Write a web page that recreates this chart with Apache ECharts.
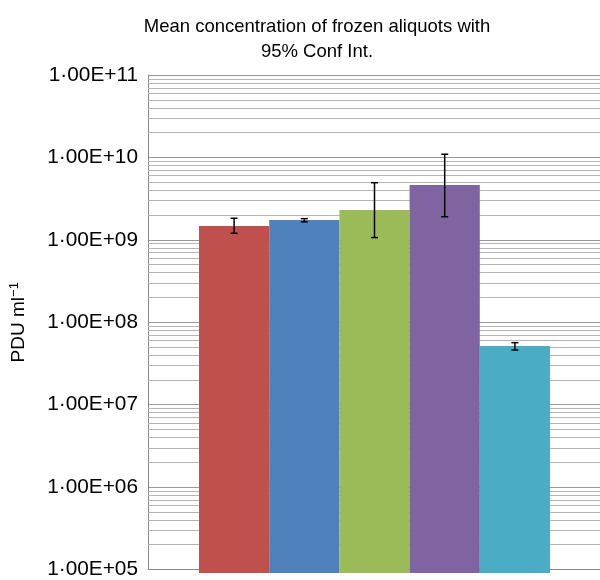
<!DOCTYPE html>
<html>
<head>
<meta charset="utf-8">
<script src="https://cdn.jsdelivr.net/npm/echarts@6/dist/echarts.min.js"></script>
<style>html,body{margin:0;padding:0;background:#fff}#c{width:600px;height:580px}</style>
</head>
<body>
<div id="c"></div>
<script>
// ---- data ----
const categories = ['Aliquot 1', 'Aliquot 2', 'Aliquot 3', 'Aliquot 4', 'Aliquot 5'];
const means   = [1.52e9, 1.79e9, 2.36e9, 4.73e9, 5.43e7];
const ciLow   = [1.24e9, 1.70e9, 1.10e9, 1.96e9, 4.86e7];
const ciHigh  = [1.88e9, 1.86e9, 5.04e9, 1.11e10, 5.96e7];
const barColors = ['#C0504D', '#4F81BD', '#9BBB59', '#8064A2', '#4BACC6'];
const yMin = 1e5, yMax = 1e11;
const titleText = 'Mean concentration of frozen aliquots with\n95% Conf Int.';
const yNameMain = 'PDU ml';
const yNameSup = '\u22121';

// minor gridline values (2..9 x 10^k)
const minorVals = [];
for (let k = 5; k < 11; k++) for (let m = 2; m <= 9; m++) minorVals.push(m * Math.pow(10, k));

const font = '"Liberation Sans", Arial, sans-serif';
const chart = echarts.init(document.getElementById('c'), null, {renderer: 'canvas'});
const fmt = v => { const e = Math.round(Math.log10(v)); return '1\u00B700E+' + String(e).padStart(2, '0'); };

chart.setOption({
  animation: false,
  title: {
    text: titleText, left: 312, top: 9, textAlign: 'center',
    textStyle: {fontFamily: font, fontSize: 18.5, fontWeight: 'normal', color: '#000', lineHeight: 25.5}
  },
  grid: [
    {left: 147, right: 0, top: 75, bottom: 7},
    {left: 199, right: 50, top: 75, bottom: 7}
  ],
  xAxis: [
    {type: 'category', gridIndex: 0, data: [''], axisLine: {show: true, lineStyle: {color: '#888'}},
     axisTick: {show: false}, axisLabel: {show: false}},
    {type: 'category', gridIndex: 1, data: categories, show: false}
  ],
  yAxis: [
    {type: 'log', gridIndex: 0, min: yMin, max: yMax, logBase: 10, interval: 1,
     name: '{a|' + yNameMain + '}{s|' + yNameSup + '}', nameLocation: 'middle', nameGap: 118, nameRotate: 90,
     nameTextStyle: {fontFamily: font, fontSize: 19, color: '#000',
       rich: {a: {fontFamily: font, fontSize: 19, color: '#000', lineHeight: 22},
              s: {fontFamily: font, fontSize: 13, color: '#000', verticalAlign: 'top', lineHeight: 22}}},
     axisLine: {show: true, lineStyle: {color: '#888'}}, axisTick: {show: false},
     axisLabel: {formatter: fmt, fontFamily: font, fontSize: 20.8, color: '#000', margin: 10},
     splitLine: {show: true, lineStyle: {color: '#999', width: 1}}},
    {type: 'log', gridIndex: 1, min: yMin, max: yMax, logBase: 10, interval: 1, show: false,
     splitLine: {show: false}}
  ],
  series: [
    {type: 'line', xAxisIndex: 0, yAxisIndex: 0, data: [], silent: true,
     markLine: {z: 1, silent: true, symbol: 'none', animation: false, label: {show: false},
       lineStyle: {color: '#b5b5b5', width: 1, type: 'solid'},
       data: minorVals.map(v => ({yAxis: v}))}},
    {type: 'bar', xAxisIndex: 1, yAxisIndex: 1, z: 3, barCategoryGap: '0%',
     data: means.map((v, i) => ({value: v, itemStyle: {color: barColors[i]}}))},
    {type: 'custom', xAxisIndex: 1, yAxisIndex: 1, z: 4,
     data: categories.map((c, i) => [i, ciLow[i], ciHigh[i]]),
     encode: {x: 0, y: [1, 2]},
     renderItem: (params, api) => {
       const lo = api.coord([api.value(0), api.value(1)]);
       const hi = api.coord([api.value(0), api.value(2)]);
       const hw = 3.5;
       const st = {stroke: '#000', lineWidth: 1.5};
       return {type: 'group', children: [
         {type: 'line', shape: {x1: lo[0], y1: lo[1], x2: hi[0], y2: hi[1]}, style: st},
         {type: 'line', shape: {x1: lo[0] - hw, y1: lo[1], x2: lo[0] + hw, y2: lo[1]}, style: st},
         {type: 'line', shape: {x1: hi[0] - hw, y1: hi[1], x2: hi[0] + hw, y2: hi[1]}, style: st}
       ]};
     }}
  ]
});
</script>
</body>
</html>
